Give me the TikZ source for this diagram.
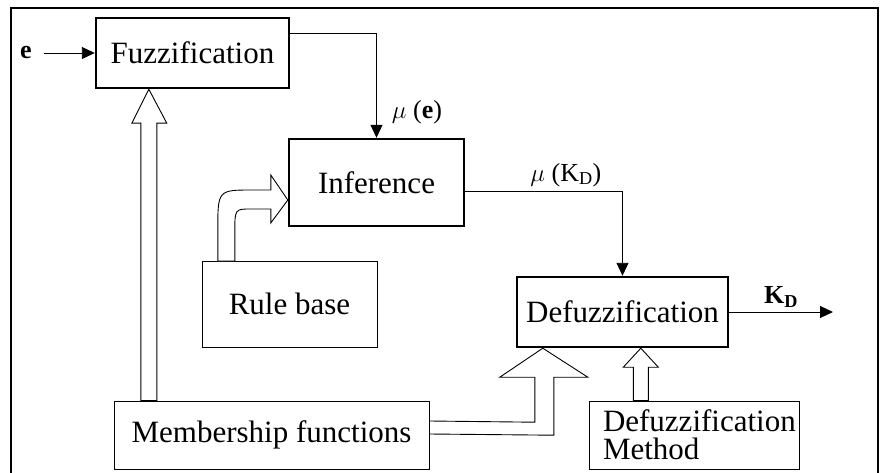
\documentclass[tikz,border=0pt]{standalone}
\usepackage{fontspec}
\setmainfont{Liberation Serif}
\usepackage{tikz}
\usetikzlibrary{arrows.meta, positioning, calc}

\begin{document}
\begin{tikzpicture}[x=1pt, y=-1pt,
    block/.style={draw, line width=2.4pt, inner sep=0pt, font=\fontsize{31}{28}\selectfont},
    plainbox/.style={draw, line width=0.9pt, inner sep=0pt, font=\fontsize{31}{28}\selectfont},
    sig/.style={line width=0.9pt, -{Triangle[length=13pt, width=12pt]}},
    hollow/.style={draw, line width=0.9pt, fill=white},
    lbl/.style={font=\fontsize{26}{28}\selectfont, inner sep=1pt}]
    \useasboundingbox (0,0) rectangle (880,473);
    % Outer frame
    \draw[line width=1.4pt] (11,476) -- (11,8) -- (878,8) -- (878,476);
    % Blocks
    \node[block, minimum width=193pt, minimum height=70pt] (fuzz) at (192.5,53) {Fuzzification};
    \node[block, minimum width=175pt, minimum height=87pt] (infer) at (376.5,182.5) {Inference};
    \node[block, minimum width=211pt, minimum height=70pt] (defuzz) at (622.5,312) {Defuzzification};
    \node[plainbox, minimum width=175pt, minimum height=86pt] (rule) at (289.5,304) {Rule base};
    \node[plainbox, minimum width=315pt, minimum height=68pt] (member) at (271.5,435) {Membership functions};
    \node[plainbox, minimum width=210pt, minimum height=68pt, align=left, inner xsep=14pt, text width=182pt] (method) at (694,435) {Defuzzification\\Method};
    % Signals
    \node[lbl, font=\fontsize{26}{28}\selectfont\bfseries, inner xsep=12pt] (ein) at (26,53) {e};
    \draw[sig] (ein.east) -- (fuzz.west);
    \draw[sig] ($(fuzz.north east)+(0,17)$) -| (infer.north)
        node[lbl, pos=0.875, right=14pt] (mue) {$\mu$ (\textbf{e})};
    \draw[sig] ($(infer.east)+(0,8.5)$) -| (defuzz.north)
        node[lbl, pos=0.32, above=3pt] (mukd) {$\mu$ (K\textsubscript{D})};
    \coordinate (kout) at (833,312);
    \draw[sig] (defuzz.east) -- (kout)
        node[lbl, midway, above=3pt, font=\fontsize{26}{28}\selectfont\bfseries] (kd) {K\textsubscript{D}};
    % Hollow arrows
    \coordinate (ftip) at ($(fuzz.south west)+(54,0)$);
    \draw[hollow] (ftip) -- ($(ftip)+(18,34)$) -- ($(ftip)+(8,34)$) -- ($(ftip |- member.north)+(8,0)$)
        -- ($(ftip |- member.north)+(-8,0)$) -- ($(ftip)+(-8,34)$) -- ($(ftip)+(-17,34)$) -- cycle;
    \coordinate (rtip) at ($(infer.west)+(0,17.5)$);
    \draw[hollow] (rtip) -- ($(rtip)+(-17,-25)$) -- ($(rtip)+(-17,-10)$) -- ($(rtip)+(-35,-10)$)
        .. controls ($(rtip)+(-70,-10)$) .. ($(rtip)+(-70,30)$) -- ($(rtip)+(-70,61)$)
        -- ($(rtip)+(-53,61)$) -- ($(rtip)+(-53,33)$)
        .. controls ($(rtip)+(-53,9)$) .. ($(rtip)+(-37,9)$) -- ($(rtip)+(-17,9)$)
        -- ($(rtip)+(-17,23)$) -- cycle;
    \coordinate (dtip) at ($(defuzz.south west)+(27,0)$);
    \draw[hollow] (dtip) -- ($(dtip)+(45,29)$) -- ($(dtip)+(11,29)$) -- ($(dtip)+(11,87)$)
        -- ($(member.east)+(0,-1)$) -- ($(member.east)+(0,-14)$) -- ($(dtip)+(-8,74)$)
        -- ($(dtip)+(-8,29)$) -- ($(dtip)+(-43,29)$) -- cycle;
    \coordinate (mtip) at ($(defuzz.south west)+(125,0)$);
    \draw[hollow] (mtip) -- ($(mtip)+(17.5,19)$) -- ($(mtip)+(7.5,19)$) -- ($(mtip |- method.north)+(7.5,0)$)
        -- ($(mtip |- method.north)+(-7.5,0)$) -- ($(mtip)+(-7.5,19)$) -- ($(mtip)+(-17.5,19)$) -- cycle;
\end{tikzpicture}
\end{document}
